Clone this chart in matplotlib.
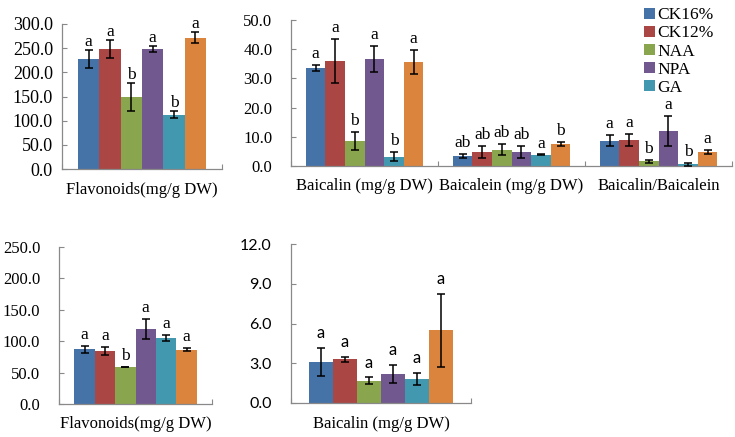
import matplotlib
matplotlib.use("Agg")  # headless
import matplotlib.pyplot as plt
import numpy as np

SERIF = "Liberation Serif"
SANS = "Lato"

# treatments (sixth, orange series has no legend entry in the original)
series_names = ["CK16%", "CK12%", "NAA", "NPA", "GA", None]
colors = ["#4572A7", "#AA4643", "#89A54E", "#71588F", "#4198AF", "#DB843D"]

# top-left panel
flav_top_groups = ["Flavonoids(mg/g DW)"]
flav_top_vals = [[227, 248, 149, 249, 112, 272]]
flav_top_err = [[19, 19, 28, 6, 7, 12]]
flav_top_letters = [["a", "a", "b", "a", "b", "a"]]

# top-right panel
bai_top_groups = ["Baicalin (mg/g DW)", "Baicalein (mg/g DW)", "Baicalin/Baicalein"]
bai_top_vals = [[33.6, 36.0, 8.6, 36.7, 3.2, 35.6],
                [3.5, 4.8, 5.5, 4.7, 3.8, 7.5],
                [8.7, 8.9, 1.6, 11.9, 0.6, 4.8]]
bai_top_err = [[1.0, 7.6, 3.0, 4.5, 1.6, 4.1],
               [0.7, 2.2, 1.9, 2.0, 0.15, 0.7],
               [1.9, 2.2, 0.5, 5.2, 0.45, 0.85]]
bai_top_letters = [["a", "a", "b", "a", "b", "a"],
                   ["ab", "ab", "ab", "ab", "a", "b"],
                   ["a", "a", "b", "a", "b", "a"]]

# bottom-left panel
flav_bot_groups = ["Flavonoids(mg/g DW)"]
flav_bot_vals = [[87.4, 84.2, 59.1, 118.8, 105.0, 86.3]]
flav_bot_err = [[5.6, 6.6, 0.5, 16.0, 5.3, 2.7]]
flav_bot_letters = [["a", "a", "b", "a", "a", "a"]]

# bottom-right panel
bai_bot_groups = ["Baicalin (mg/g DW)"]
bai_bot_vals = [[3.09, 3.29, 1.68, 2.21, 1.81, 5.48]]
bai_bot_err = [[1.08, 0.18, 0.25, 0.67, 0.45, 2.77]]
bai_bot_letters = [["a", "a", "a", "a", "a", "a"]]

AXC = "#898989"


def panel(ax, groups, vals, errs, letters, ymax, ystep, tick_font, tick_size,
          pad, gap, letter_font, letter_size):
    n = len(groups)
    w = 0.8 / len(colors)
    for g in range(n):
        for i, c in enumerate(colors):
            x = g - 0.4 + w * (i + 0.5)
            v, e = vals[g][i], errs[g][i]
            ax.bar(x, v, w, color=c, edgecolor="none", zorder=2,
                   label=(series_names[i] if (g == 0 and series_names[i]) else "_nolegend_"))
            ax.errorbar(x, v, yerr=e, fmt="none", ecolor="black", elinewidth=1.1,
                        capsize=2.6, capthick=1.1, zorder=3)
            ax.annotate(letters[g][i], xy=(x, v + e), xytext=(0, gap),
                        textcoords="offset points", ha="center", va="baseline",
                        fontfamily=letter_font, fontsize=letter_size)
    ax.set_xlim(-0.5, n - 0.5)
    ax.set_ylim(0, ymax)
    ticks = np.arange(0, ymax + ystep / 2, ystep)
    ax.set_yticks(ticks)
    ax.set_yticklabels([f"{t:.1f}" for t in ticks], fontfamily=tick_font, fontsize=tick_size)
    ax.set_xticks(range(n))
    ax.set_xticklabels(groups, fontfamily=SERIF, fontsize=12)
    ax.set_xticks(np.arange(-0.5, n, 1.0), minor=True)
    ax.tick_params(axis="x", which="major", length=0, pad=9)
    ax.tick_params(axis="x", which="minor", direction="in", length=3.5, color=AXC, width=0.8)
    ax.tick_params(axis="y", direction="in", length=3.5, color=AXC, width=0.8, pad=pad)
    for s in ("top", "right"):
        ax.spines[s].set_visible(False)
    for s in ("left", "bottom"):
        ax.spines[s].set_color(AXC)
        ax.spines[s].set_linewidth(0.9)


fig = plt.figure(figsize=(7.35, 4.37), dpi=100)
W, H = 735.0, 437.0


def box(x0, x1, y0, y1):
    return [x0 / W, 1 - y1 / H, (x1 - x0) / W, (y1 - y0) / H]


ax1 = fig.add_axes(box(62, 222, 24, 169))
ax2 = fig.add_axes(box(291, 732, 20, 166))
ax3 = fig.add_axes(box(59, 212, 247, 404))
ax4 = fig.add_axes(box(291, 471, 244, 403))

panel(ax1, flav_top_groups, flav_top_vals, flav_top_err, flav_top_letters,
      300, 50, SERIF, 13, 6.5, 3, SERIF, 12.5)
panel(ax2, bai_top_groups, bai_top_vals, bai_top_err, bai_top_letters,
      50, 10, SERIF, 12, 13.5, 5, SERIF, 12.5)
panel(ax3, flav_bot_groups, flav_bot_vals, flav_bot_err, flav_bot_letters,
      250, 50, SERIF, 12, 13.5, 5, SERIF, 12.5)
panel(ax4, bai_bot_groups, bai_bot_vals, bai_bot_err, bai_bot_letters,
      12, 3, SANS, 11.5, 14, 7, SANS, 12)

fig.legend(*ax1.get_legend_handles_labels(), loc="upper left",
           bbox_to_anchor=(634 / W, 1 + 3 / H), frameon=False,
           prop={"family": SERIF, "size": 12.5}, handlelength=0.6, handleheight=0.6,
           handletextpad=0.15, labelspacing=0.12, borderpad=0.1)

fig.savefig("out.png", dpi=100)
